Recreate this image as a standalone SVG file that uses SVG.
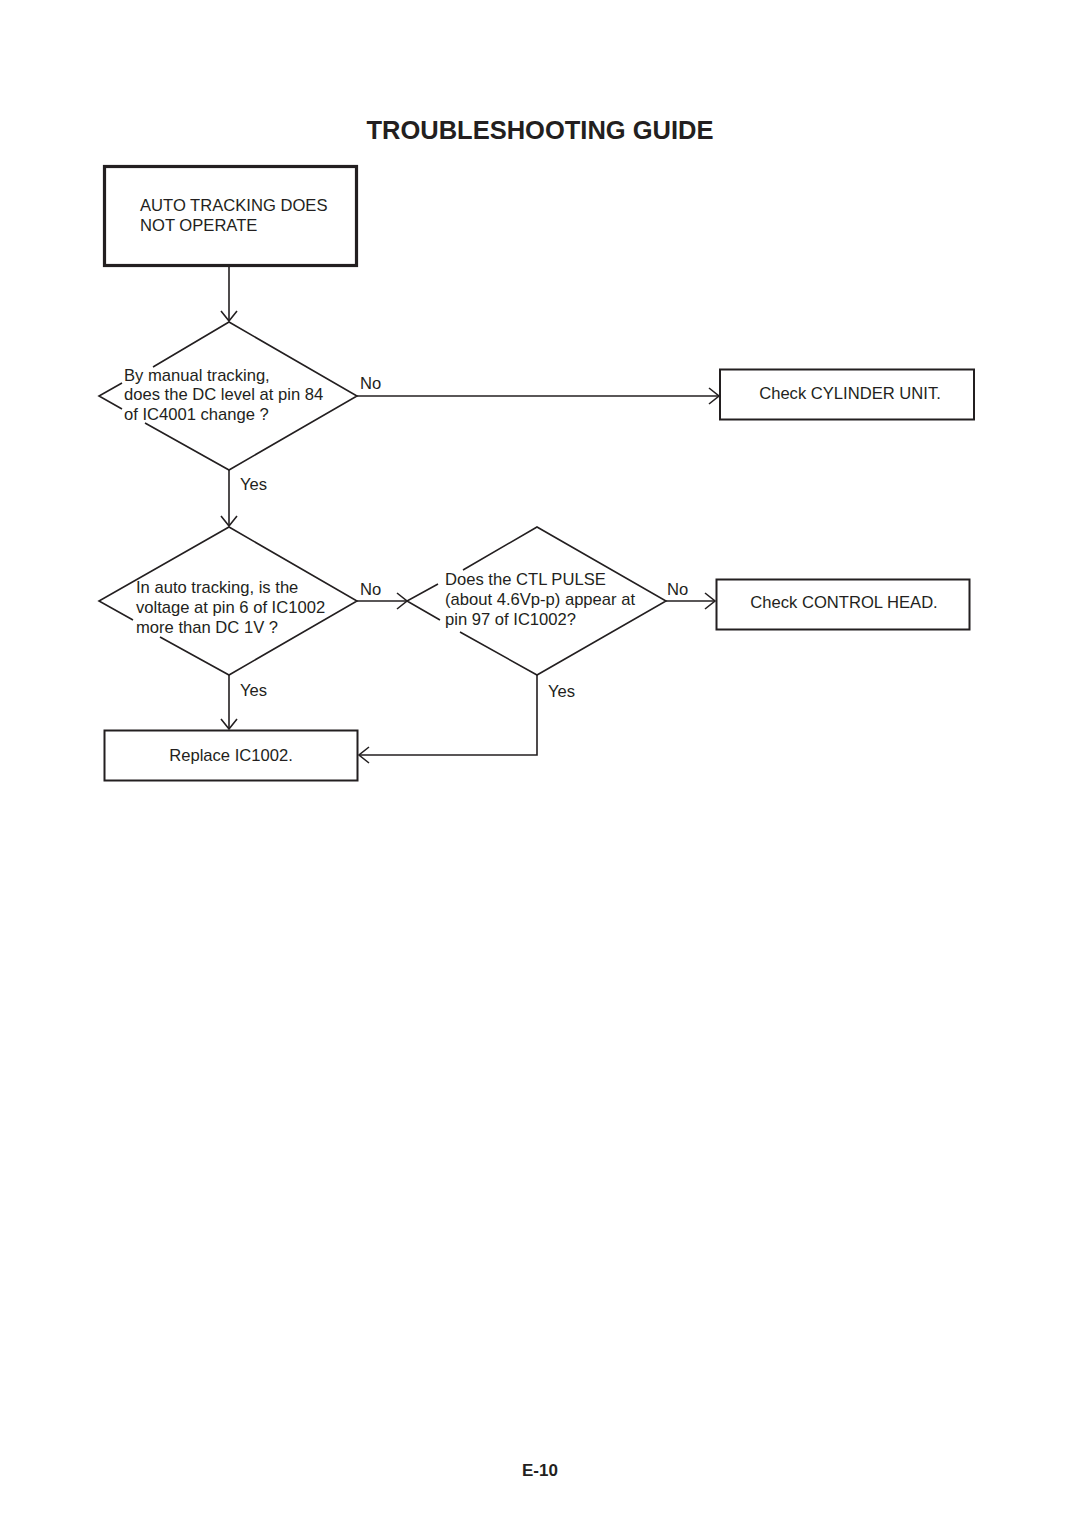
<svg xmlns="http://www.w3.org/2000/svg" width="1080" height="1528" viewBox="0 0 1080 1528">
<style>
text{font-family:"Liberation Sans",Arial,sans-serif;font-size:16.6px;fill:#231f20}
.title{font-size:25.5px;font-weight:bold}
.page{font-size:17px;font-weight:bold}
.box{fill:#fff;stroke:#231f20;stroke-width:2}
.thick{stroke-width:3.2}
.edge{fill:none;stroke:#231f20;stroke-width:1.6}
.conn{fill:none;stroke:#231f20;stroke-width:1.6}
.c{text-anchor:middle}
</style>
<defs>
<marker id="arr" markerUnits="userSpaceOnUse" markerWidth="14" markerHeight="20" refX="11" refY="9" orient="auto">
<path d="M1,1 L11,9 L1,17" fill="none" stroke="#231f20" stroke-width="1.6"/>
</marker>
</defs>
<rect width="1080" height="1528" fill="#fff"/>
<text class="title c" x="540" y="139">TROUBLESHOOTING GUIDE</text>

<g id="start">
<rect class="box thick" x="104.5" y="166.5" width="252" height="99"/>
<text x="140" y="211">AUTO TRACKING DOES</text>
<text x="140" y="231">NOT OPERATE</text>
</g>

<g id="q1">
<polyline class="edge" points="153,367 229,322 357,396 229,470 145,423"/>
<polyline class="edge" points="122,383 99,396 122,409"/>
<text x="124" y="381">By manual tracking,</text>
<text x="124" y="400">does the DC level at pin 84</text>
<text x="124" y="420">of IC4001 change ?</text>
</g>

<g id="cyl">
<rect class="box" x="720" y="369.5" width="254" height="50"/>
<text class="c" x="850" y="399">Check CYLINDER UNIT.</text>
</g>

<g id="q2">
<polyline class="edge" points="133,620 99,601 229,527 357,601 229,675 160,637"/>
<text x="136" y="593">In auto tracking, is the</text>
<text x="136" y="613">voltage at pin 6 of IC1002</text>
<text x="136" y="633">more than DC 1V ?</text>
</g>

<g id="q3">
<polyline class="edge" points="463,570 537,527 666,601 537,675 460,632"/>
<polyline class="edge" points="438,584 407,601 440,620"/>
<text x="445" y="585">Does the CTL PULSE</text>
<text x="445" y="605">(about 4.6Vp-p) appear at</text>
<text x="445" y="625">pin 97 of IC1002?</text>
</g>

<g id="ctl">
<rect class="box" x="716.5" y="579.5" width="253" height="50"/>
<text class="c" x="844" y="608">Check CONTROL HEAD.</text>
</g>

<g id="replace">
<rect class="box" x="104.5" y="730.5" width="253" height="50"/>
<text class="c" x="231" y="761">Replace IC1002.</text>
</g>

<g id="connectors">
<line class="conn" x1="229" y1="266" x2="229" y2="321" marker-end="url(#arr)"/>
<line class="conn" x1="357" y1="396" x2="719" y2="396" marker-end="url(#arr)"/>
<line class="conn" x1="229" y1="470" x2="229" y2="526" marker-end="url(#arr)"/>
<line class="conn" x1="357" y1="601" x2="407" y2="601" marker-end="url(#arr)"/>
<line class="conn" x1="666" y1="601" x2="715" y2="601" marker-end="url(#arr)"/>
<line class="conn" x1="229" y1="675" x2="229" y2="729" marker-end="url(#arr)"/>
<polyline class="conn" points="537,675 537,755 359,755" marker-end="url(#arr)"/>
<text x="360" y="389">No</text>
<text x="240" y="490">Yes</text>
<text x="360" y="595">No</text>
<text x="667" y="595">No</text>
<text x="240" y="696">Yes</text>
<text x="548" y="697">Yes</text>
</g>

<text class="page c" x="540" y="1476">E-10</text>
</svg>
